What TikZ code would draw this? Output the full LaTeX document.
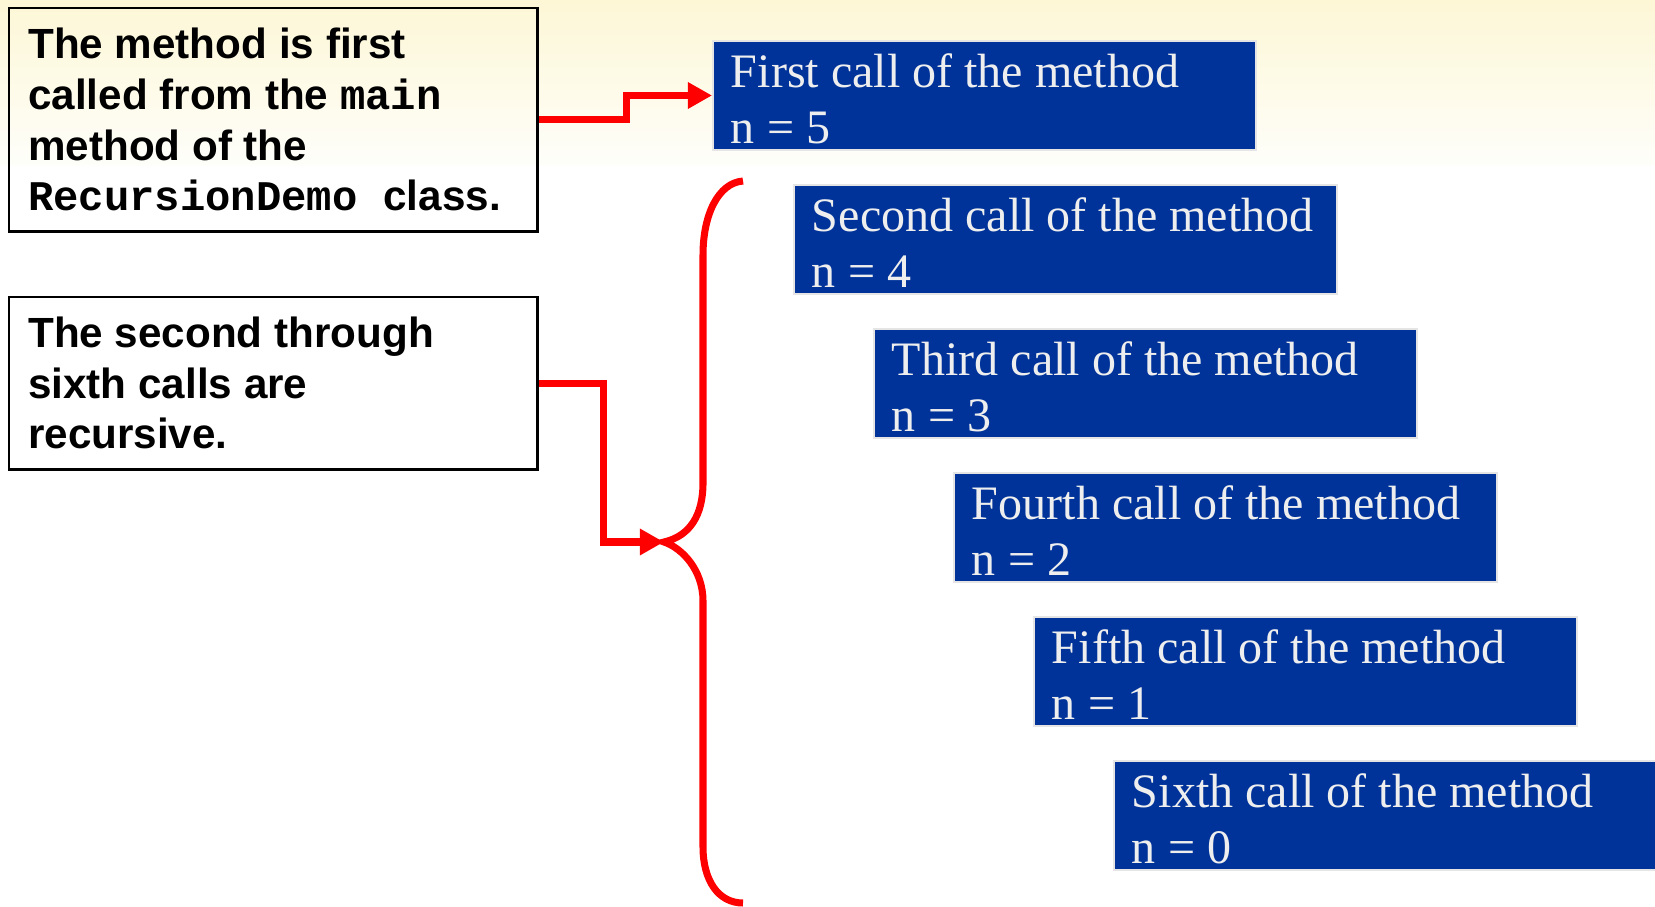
\documentclass[tikz,border=0pt]{standalone}
\usepackage{fontspec}
\usepackage{xcolor}
\usepackage{tikz}
\usetikzlibrary{shapes,arrows.meta,calc}

\newfontfamily\notefont{Liberation Sans}
\newfontfamily\codefont{Liberation Mono}
\newfontfamily\callfont{Liberation Serif}

\definecolor{callblue}{RGB}{0,51,153}
\definecolor{calltext}{RGB}{238,238,238}
\definecolor{slidetop}{RGB}{253,247,214}
\definecolor{slidefade}{RGB}{254,254,250}

\begin{document}
\begin{tikzpicture}[x=0.01cm, y=-0.01cm]
  % Define styles
  \tikzstyle{note} = [rectangle, draw=black, line width=0.7pt, anchor=north west, inner xsep=0.19cm, text width=4.9cm, align=flush left, font=\notefont\bfseries\fontsize{12}{14.4}\selectfont]
  \tikzstyle{call} = [rectangle, draw=black!10, line width=0.55pt, fill=callblue, text=calltext, anchor=north west, minimum height=1.09cm, inner xsep=0.09cm, inner ysep=0pt, text width=5.25cm, align=flush left, font=\callfont\fontsize{13.66}{15.9}\selectfont, execute at begin node={\leftskip=0.09cm\relax\rule{0pt}{0.4cm}}]
  \tikzstyle{arrow} = [red, line width=2pt, ->, >={Triangle[length=0.24cm, width=0.25cm]}]
  \tikzstyle{brace} = [red, line width=2pt]

  % Slide background
  \fill[white] (0,0) rectangle (1655,907);
  \shade[top color=slidetop, bottom color=slidefade] (0,0) rectangle (1655,166);
  \useasboundingbox (0,0) rectangle (1655,907);

  % Explanation boxes on the left
  \node [note, minimum height=2.23cm] (firstnote) at (8,7) {
    The method is first\\
    called from the {\codefont main}\\
    method of the\\
    {\codefont RecursionDemo}\hspace{0.26cm}class.
  };
  \node [note, minimum height=1.72cm] (recnote) at (8,296) {
    The second through\\
    sixth calls are\\
    recursive.
  };

  % The six calls, stepping down to the right
  \node [call] (call1) at (712,40) {First call of the method\\ n = 5};
  \node [call] (call2) at (793,184) {Second call of the method\\ n = 4};
  \node [call] (call3) at (873,328) {Third call of the method\\ n = 3};
  \node [call] (call4) at (953,472) {Fourth call of the method\\ n = 2};
  \node [call] (call5) at (1033,616) {Fifth call of the method\\ n = 1};
  \node [call] (call6) at (1113,760) {Sixth call of the method\\ n = 0};

  % Brace round the recursive calls
  \coordinate (bracetop) at (743,181);
  \coordinate (bracetip) at (664,542);
  \coordinate (bracebottom) at (743,903);
  \draw [brace] (bracetop) .. controls (718,183) and (703,215) .. (703,255)
    -- (703,483) .. controls (703,515) and (690,536) .. (bracetip)
    .. controls (682,548) and (703,570) .. (703,601)
    -- (703,847) .. controls (703,880) and (718,903) .. (bracebottom);

  % Arrows
  \draw [arrow] (firstnote.east) -- ++(88,0) |- (call1.west);
  \draw [arrow] (recnote.east) -- ++(65,0) |- (bracetip);

\end{tikzpicture}
\end{document}
